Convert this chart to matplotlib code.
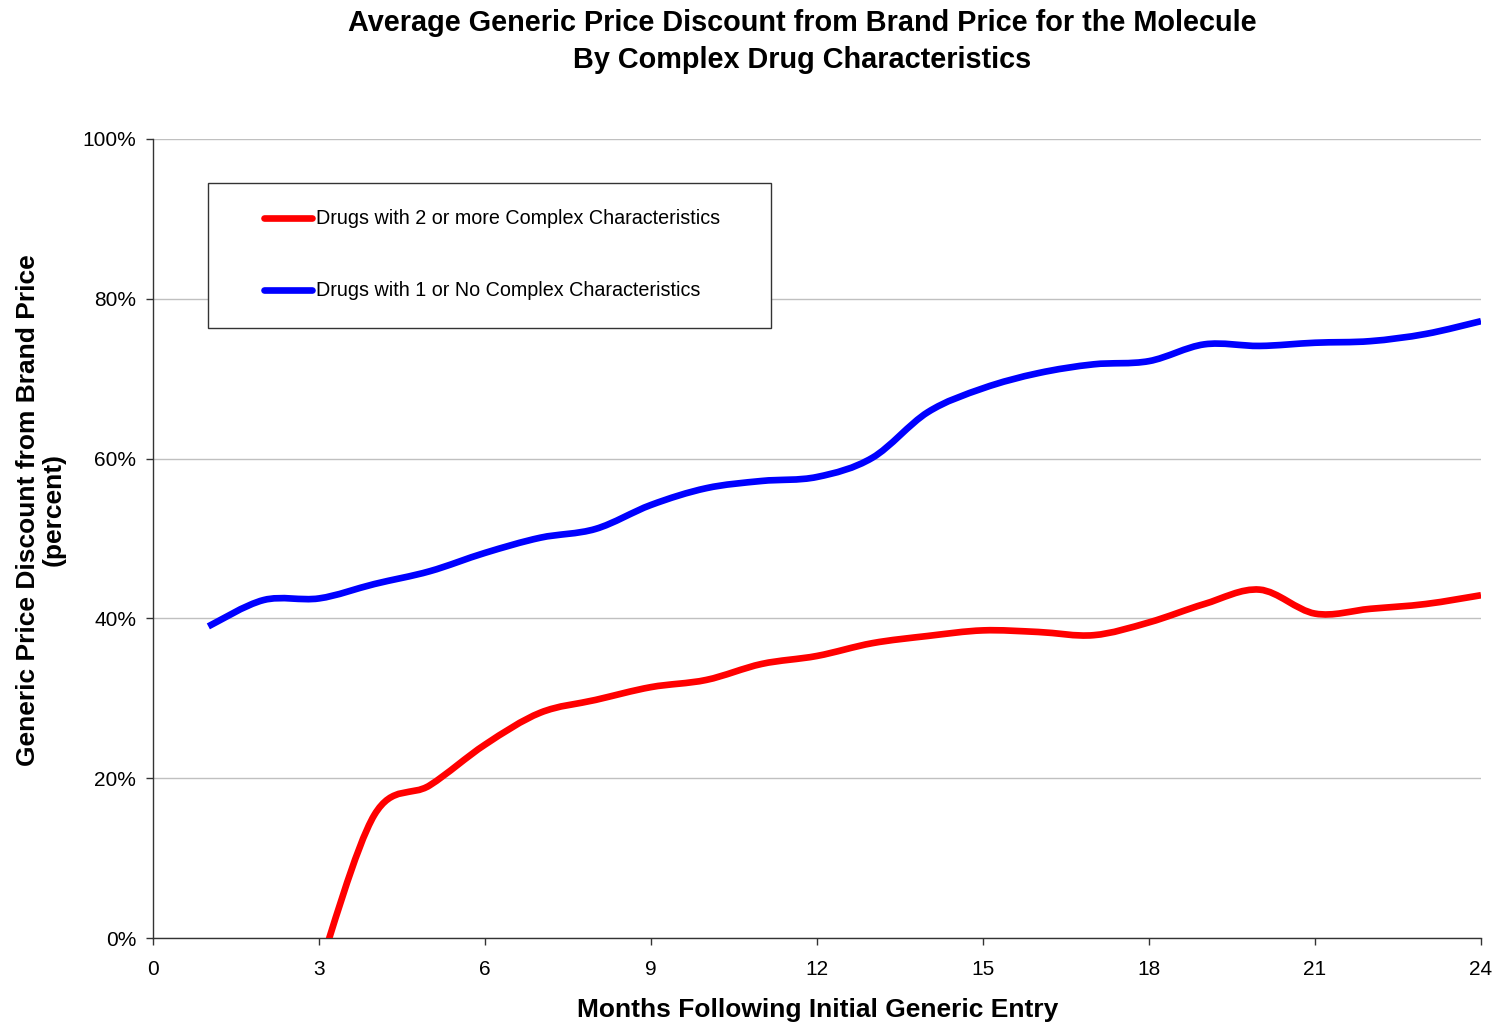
import numpy as np
import matplotlib
matplotlib.use("Agg")
import matplotlib.pyplot as plt
from matplotlib.path import Path
from matplotlib.patches import PathPatch, Rectangle
from matplotlib.lines import Line2D
from matplotlib.ticker import PercentFormatter

plt.rcParams['font.family'] = ['Liberation Sans', 'DejaVu Sans']

# months after first generic entry and average discount (percent)
months_complex = np.arange(3, 25)
discount_complex = [-4.0, 15.4, 19.1, 24.2, 28.2, 29.8, 31.4, 32.3, 34.3, 35.3,
                    36.9, 37.8, 38.5, 38.3, 37.9, 39.5, 41.8, 43.6, 40.6, 41.2,
                    41.8, 42.9]

months_simple = np.arange(1, 25)
discount_simple = [39.0, 42.3, 42.5, 44.3, 45.9, 48.2, 50.1, 51.2, 54.2, 56.3,
                   57.2, 57.7, 60.1, 65.8, 68.8, 70.7, 71.8, 72.2, 74.3, 74.1,
                   74.5, 74.7, 75.6, 77.2]

labels = ["Drugs with 2 or more Complex Characteristics",
          "Drugs with 1 or No Complex Characteristics"]
colors = ["#ff0000", "#0000ff"]

x_ticks = np.arange(0, 25, 3)
y_ticks = np.arange(0, 101, 20)


def smooth_path(x, y):
    # cubic Bezier through every point, Catmull-Rom style tangents
    pts = np.column_stack([x, y]).astype(float)
    n = len(pts)
    verts = [pts[0]]
    codes = [Path.MOVETO]
    for i in range(n - 1):
        p0 = pts[i - 1] if i > 0 else pts[i]
        p1 = pts[i]
        p2 = pts[i + 1]
        p3 = pts[i + 2] if i + 2 < n else pts[i + 1]
        c1 = p1 + (p2 - p0) / 6.0
        c2 = p2 - (p3 - p1) / 6.0
        verts += [c1, c2, p2]
        codes += [Path.CURVE4] * 3
    return Path(verts, codes)


fig = plt.figure(figsize=(15, 10.26), dpi=100)
ax = fig.add_axes([153 / 1500, 1 - 938 / 1026, (1481 - 153) / 1500, (938 - 139) / 1026])

for xs, ys, c in [(months_complex, discount_complex, colors[0]),
                  (months_simple, discount_simple, colors[1])]:
    patch = PathPatch(smooth_path(xs, ys), facecolor='none', edgecolor=c,
                      lw=4.8, capstyle='butt', joinstyle='round', zorder=3)
    ax.add_patch(patch)

ax.set_xlim(0, 24)
ax.set_ylim(0, 100)
ax.set_xticks(x_ticks)
ax.set_yticks(y_ticks)
ax.yaxis.set_major_formatter(PercentFormatter(decimals=0))
ax.grid(axis='y', color='#c0c0c0', lw=1)
ax.set_axisbelow(True)
for s in ['top', 'right']:
    ax.spines[s].set_visible(False)
for s in ['left', 'bottom']:
    ax.spines[s].set_color('#333333')
    ax.spines[s].set_linewidth(1)
ax.tick_params(direction='out', length=5, width=1, color='#333333', labelsize=15)
ax.tick_params(axis='x', pad=11)
ax.tick_params(axis='y', pad=7)

# titles and axis labels
fig.text(802 / 1500, 1 - 23 / 1026, "Average Generic Price Discount from Brand Price for the Molecule",
         ha='center', va='center', fontsize=20.8, fontweight='bold')
fig.text(802 / 1500, 1 - 60 / 1026, "By Complex Drug Characteristics",
         ha='center', va='center', fontsize=20.8, fontweight='bold')
fig.text(818 / 1500, 1 - 1010 / 1026, "Months Following Initial Generic Entry",
         ha='center', va='center', fontsize=19, fontweight='bold')
fig.text(41 / 1500, 1 - 510 / 1026, "Generic Price Discount from Brand Price\n(percent)",
         ha='center', va='center', rotation=90, fontsize=19, fontweight='bold',
         multialignment='center', linespacing=1.1)

# legend box
fig.add_artist(Rectangle((208 / 1500, 1 - 328 / 1026), (771 - 208) / 1500, (328 - 183) / 1026,
                         transform=fig.transFigure, facecolor='white',
                         edgecolor='#333333', lw=1, zorder=5))
for yp, lab, c in [(218, labels[0], colors[0]), (290, labels[1], colors[1])]:
    fy = 1 - yp / 1026
    fig.add_artist(Line2D([264 / 1500, 312 / 1500], [fy, fy], transform=fig.transFigure,
                          color=c, lw=4.8, solid_capstyle='round', zorder=6))
    fig.text(316 / 1500, fy, lab, ha='left', va='center', fontsize=14.2, zorder=6)

fig.savefig("out.png", dpi=100)
